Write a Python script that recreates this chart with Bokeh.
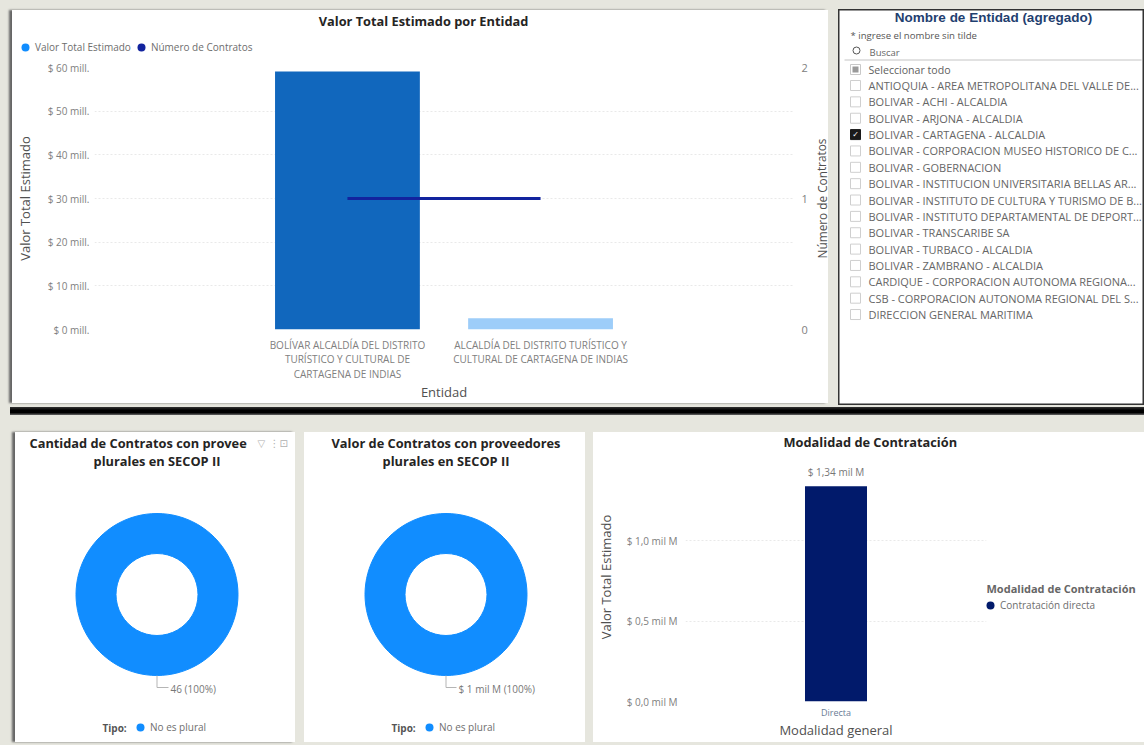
from bokeh.plotting import figure
from bokeh.embed import file_html
from bokeh.resources import INLINE
from bokeh.core.properties import value
from bokeh.models import (ColumnDataSource, FactorRange, Range1d, LinearAxis, FixedTicker,
                          Legend, LegendItem, Spacer)
import math

# ---------- data ----------
entities = ["BOLÍVAR ALCALDÍA DEL DISTRITO\nTURÍSTICO Y CULTURAL DE\nCARTAGENA DE INDIAS",
            "ALCALDÍA DEL DISTRITO TURÍSTICO Y\nCULTURAL DE CARTAGENA DE INDIAS"]
entity_values = [59.1, 2.6]
entity_colors = ["#1167bd", "#9dcdf9"]
entity_contracts = [1, 1]
left_ticks = [0, 10, 20, 30, 40, 50, 60]
left_labels = ["$ 0 mill.", "$ 10 mill.", "$ 20 mill.", "$ 30 mill.", "$ 40 mill.", "$ 50 mill.", "$ 60 mill."]
right_ticks = [0, 1, 2]

slicer_items = ["ANTIOQUIA - AREA METROPOLITANA DEL VALLE DE...", "BOLIVAR - ACHI - ALCALDIA",
                "BOLIVAR - ARJONA - ALCALDIA", "BOLIVAR - CARTAGENA - ALCALDIA",
                "BOLIVAR - CORPORACION MUSEO HISTORICO DE C...", "BOLIVAR - GOBERNACION",
                "BOLIVAR - INSTITUCION UNIVERSITARIA BELLAS AR...", "BOLIVAR - INSTITUTO DE CULTURA Y TURISMO DE B...",
                "BOLIVAR - INSTITUTO DEPARTAMENTAL DE DEPORT...", "BOLIVAR - TRANSCARIBE SA",
                "BOLIVAR - TURBACO - ALCALDIA", "BOLIVAR - ZAMBRANO - ALCALDIA",
                "CARDIQUE - CORPORACION AUTONOMA REGIONA...", "CSB - CORPORACION AUTONOMA REGIONAL DEL S...",
                "DIRECCION GENERAL MARITIMA"]
slicer_checked = [3]

donut_count = [46]
donut_value = [1.34]
donut_count_label = "46 (100%)"
donut_value_label = "$ 1 mil M (100%)"
plural_label = "No es plural"

modalidad = ["Directa"]
modalidad_values = [1.34]
modalidad_labels = ["$ 1,34 mil M"]
mod_ticks = [0, 0.5, 1.0]
mod_tick_labels = ["$ 0,0 mil M", "$ 0,5 mil M", "$ 1,0 mil M"]

# ---------- style ----------
FONT = "Open Sans"
GRID = "#e9e9e9"
TICK = "#808080"
BLUE = "#118dff"
NAVY = "#12239e"
DARK = "#011a6b"
NAN = float("nan")


def place(left, top, shadow=False):
    st = {"position": "absolute", "left": f"{left}px", "top": f"{top}px", "background": "white"}
    if shadow:
        st["box-shadow"] = "-3px 0px 2px #666"
    return st


def style_axis(ax, size="10px", color=TICK):
    ax.axis_line_color = None
    ax.major_tick_line_color = None
    ax.minor_tick_line_color = None
    ax.major_tick_out = 0
    ax.major_tick_in = 0
    ax.minor_tick_out = 0
    ax.major_label_text_font = FONT
    ax.major_label_text_font_size = size
    ax.major_label_text_color = color
    ax.axis_label_text_font = FONT
    ax.axis_label_text_font_size = "13px"
    ax.axis_label_text_font_style = "normal"
    ax.axis_label_text_color = "#505050"


def style_title(t, size="12.8px"):
    t.text_font = FONT
    t.text_font_size = size
    t.text_font_style = "bold"
    t.text_color = "#252423"
    t.vertical_align = "top"


def make_legend(items, **kw):
    lg = Legend(items=items, orientation=kw.pop("orientation", "horizontal"), border_line_color=None,
                background_fill_alpha=0, padding=0, margin=0, spacing=0, glyph_width=20, glyph_height=20,
                label_standoff=0, label_text_font=FONT, label_text_font_size="10px",
                label_text_color="#6e6e6e", **kw)
    return lg


def strip(left, top, w, h):
    """A small white overlay panel for things that sit outside a plot's frame."""
    s = figure(width=w, height=h, x_range=Range1d(left, left + w), y_range=Range1d(top + h, top),
               output_backend="svg", toolbar_location=None, min_border=0, outline_line_color=None,
               border_fill_color=None, background_fill_color=None, styles=place(left, top), margin=0)
    s.axis.visible = False
    s.grid.visible = False
    return s


text_kw = dict(text_font=value(FONT), text_baseline="middle")

# ---------- main combo chart ----------
main = figure(width=816, height=393, x_range=FactorRange(*entities, range_padding=0.81, range_padding_units="absolute"),
              y_range=Range1d(0, 60), output_backend="svg", toolbar_location=None,
              min_border_left=82, min_border_right=35, min_border_top=57, min_border_bottom=74,
              outline_line_color=None, border_fill_color=None, background_fill_color=None,
              styles=place(12, 10, True), margin=0)
main.extra_y_ranges = {"contracts": Range1d(0, 2)}
main.vbar(x=entities, top=entity_values, width=0.75, fill_color=entity_colors, line_color=None)
main.line(x=entities, y=entity_contracts, y_range_name="contracts", line_color=NAVY, line_width=3)
r_axis = LinearAxis(y_range_name="contracts", ticker=FixedTicker(ticks=right_ticks))
main.add_layout(r_axis, "right")
style_axis(r_axis, size="11px")
r_axis.major_label_standoff = 8
la = main.yaxis[0]
la.ticker = FixedTicker(ticks=left_ticks)
la.major_label_overrides = dict(zip(left_ticks, left_labels))
la.axis_label = "Valor Total Estimado"
style_axis(la)
la.major_label_standoff = 5
la.axis_label_standoff = 11
xa = main.xaxis[0]
style_axis(xa, size="10px")
xa.axis_label = "Entidad"
xa.major_label_orientation = "horizontal"
xa.major_label_standoff = 8
xa.axis_label_standoff = -1
xa.major_label_text_line_height = 1.05
main.xgrid.visible = False
main.ygrid.grid_line_color = GRID
main.ygrid.grid_line_dash = "2 2"

main_title = strip(300, 12, 250, 17)
main_title.text(x=[423], y=[20], text=["Valor Total Estimado por Entidad"], text_align="center",
                text_font_size="12.8px", text_font_style="bold", text_color="#252423", **text_kw)

main_legend = strip(15, 37, 300, 20)
lg_a = main_legend.scatter(x=[20], y=[NAN], marker="circle", fill_color=BLUE, line_color=None)
lg_b = main_legend.scatter(x=[20], y=[NAN], marker="circle", fill_color=NAVY, line_color=None)
main_legend.add_layout(make_legend([LegendItem(label="Valor Total Estimado", renderers=[lg_a]),
                                    LegendItem(label="Número de Contratos", renderers=[lg_b])],
                                   location=(0, 0)))

right_title = strip(813, 130, 15, 136)
right_title.text(x=[821], y=[198], text=["Número de Contratos"], angle=[math.pi / 2], text_align="center",
                 text_font_size="11.8px", text_color="#505050", **text_kw)

# ---------- slicer ----------
sl = figure(width=306, height=396, x_range=Range1d(838, 1144), y_range=Range1d(405, 9), output_backend="svg",
            toolbar_location=None, min_border=0, outline_line_color="#333333", outline_line_width=2,
            border_fill_color=None, background_fill_color=None, styles=place(838, 9), margin=0)
sl.axis.visible = False
sl.grid.visible = False
ROW0, ROWH = 85.0, 16.36
row_y = [ROW0 + ROWH * i for i in range(len(slicer_items))]
sl.text(x=[993], y=[17], text=["Nombre de Entidad (agregado)"], text_align="center", text_font=value("Liberation Sans"),
        text_font_style="bold", text_font_size="13.5px", text_color="#1f4070", text_baseline="middle")
sl.text(x=[850], y=[35], text=["* ingrese el nombre sin tilde"], text_font_size="9.6px", text_color="#555555", **text_kw)
sl.scatter(x=[856], y=[50], marker="circle", size=7, fill_color=None, line_color="#555555")
sl.text(x=[869], y=[52], text=["Buscar"], text_font_size="9.5px", text_color="#666666", **text_kw)
sl.line(x=[844, 1141], y=[59.5, 59.5], line_color="#c4c4c4", line_width=1)
sl.scatter(x=[855], y=[69], marker="square", size=10, fill_color="white", line_color="#c8c8c8")
sl.scatter(x=[855], y=[69], marker="square", size=6, fill_color="#9a9a9a", line_color=None)
sl.text(x=[868], y=[69], text=["Seleccionar todo"], text_font_size="10.6px", text_color="#606060", **text_kw)
box_fill = ["#1a1a1a" if i in slicer_checked else "white" for i in range(len(slicer_items))]
box_line = ["#1a1a1a" if i in slicer_checked else "#cfcfcf" for i in range(len(slicer_items))]
sl.scatter(x=[855] * len(row_y), y=row_y, marker="square", size=10, fill_color=box_fill, line_color=box_line)
sl.text(x=[868] * len(row_y), y=row_y, text=slicer_items, text_font_size="11px", text_color="#666666", **text_kw)
sl.text(x=[855] * len(slicer_checked), y=[row_y[i] for i in slicer_checked], text=["✓"] * len(slicer_checked),
        text_align="center", text_baseline="middle", text_font=value("DejaVu Sans"), text_font_size="8px", text_color="white")


# ---------- donuts ----------
def donut(vals, label, width, x0, cx, leader_end, first_line, first_x, first_align, tipo_x, shadow):
    p = figure(width=width, height=310, x_range=Range1d(x0, x0 + width), y_range=Range1d(742, 432),
               output_backend="svg", toolbar_location=None, min_border=0,
               outline_line_color=None, border_fill_color=None, background_fill_color=None,
               styles=place(x0, 432, shadow), margin=0)
    p.axis.visible = False
    p.grid.visible = False
    total = sum(vals)
    ang = [2 * math.pi * v / total for v in vals]
    p.annular_wedge(x=[cx], y=[594], inner_radius=41, outer_radius=81, inner_radius_units="screen",
                    outer_radius_units="screen", start_angle=[0], end_angle=[a * 0.99999 for a in ang],
                    fill_color=BLUE, line_color=BLUE)
    p.line(x=[cx, cx, leader_end], y=[675, 687, 687], line_color="#b5b5b5", line_width=1)
    p.text(x=[leader_end + 2], y=[688], text=[label], text_font_size="10px", text_color="#777777", **text_kw)
    p.text(x=[tipo_x], y=[727], text=["Tipo:"], text_font_size="10px", text_color="#555555", text_font_style="bold", **text_kw)
    s = p.scatter(x=[cx], y=[NAN], marker="circle", fill_color=BLUE, line_color=None)
    p.add_layout(make_legend([LegendItem(label=plural_label, renderers=[s])], location=(tipo_x + 28 - x0, 5)))
    title_kw = dict(text_font_size="12.8px", text_font_style="bold", text_color="#252423", **text_kw)
    p.text(x=[first_x], y=[442], text=[first_line], text_align=first_align, **title_kw)
    p.text(x=[cx], y=[460], text=["plurales en SECOP II"], text_align="center", **title_kw)
    return p


d1 = donut(donut_count, donut_count_label, 280, 15, 156.5, 168, "Cantidad de Contratos con provee", 29, "left", 102, True)
d2 = donut(donut_value, donut_value_label, 281, 304, 445.5, 456, "Valor de Contratos con proveedores", 445.5, "center", 391, False)
icons = strip(254, 436, 38, 14)
icons.text(x=[257, 269, 279], y=[443, 443, 443], text=["▽", "⋮", "⊡"], text_baseline="middle",
           text_font=value("DejaVu Sans"), text_font_size="10px", text_color="#b0b0b0")

# ---------- modalidad ----------
bar = figure(width=551, height=310, x_range=FactorRange(*modalidad), y_range=Range1d(0, 1.55), output_backend="svg",
             toolbar_location=None, min_border_left=92, min_border_right=158, min_border_top=16, min_border_bottom=41,
             outline_line_color=None, border_fill_color=None, background_fill_color=None,
             styles=place(593, 432), margin=0)
src = ColumnDataSource(dict(x=modalidad, top=modalidad_values, label=modalidad_labels))
bar.vbar(x="x", top="top", width=0.206, source=src, fill_color=DARK, line_color=None)
bar.text(x="x", y="top", text="label", source=src, text_align="center", text_baseline="bottom", y_offset=-7,
         text_font=value(FONT), text_font_size="10px", text_color="#777777")
by = bar.yaxis[0]
by.ticker = FixedTicker(ticks=mod_ticks)
by.major_label_overrides = dict(zip(mod_ticks, mod_tick_labels))
by.axis_label = "Valor Total Estimado"
style_axis(by)
by.major_label_standoff = 8
by.axis_label_standoff = 9
bx = bar.xaxis[0]
style_axis(bx, size="9px", color="#6a7c96")
bx.axis_label = "Modalidad general"
bx.major_label_standoff = 4
bx.axis_label_standoff = -1
bar.xgrid.visible = False
bar.ygrid.grid_line_color = GRID
bar.ygrid.grid_line_dash = "2 2"
bar.title.text = "Modalidad de Contratación"
bar.title.align = "left"
bar.title.offset = 98
bar.title.standoff = 0
style_title(bar.title)

bar_legend = strip(986, 578, 157, 37)
bar_legend.text(x=[986], y=[588], text=["Modalidad de Contratación"], text_font_size="11px", text_font_style="bold",
                text_color="#666666", **text_kw)
lg_m = bar_legend.scatter(x=[990], y=[NAN], marker="circle", fill_color=DARK, line_color=None)
bar_legend.add_layout(make_legend([LegendItem(label="Contratación directa", renderers=[lg_m])], location=(-6, 0)))

# ---------- page ----------
bg = Spacer(width=1144, height=745, margin=0, styles={**place(0, 0), "background": "#e6e6de"})
band = Spacer(width=1134, height=8, margin=0,
              styles={**place(10, 407), "background": "linear-gradient(#333, #000 40%, #000 70%, #666)"})
p = [bg, main, main_title, main_legend, right_title, sl, band, d1, d2, icons, bar, bar_legend]

open("out.html", "w").write(file_html(p, INLINE))
